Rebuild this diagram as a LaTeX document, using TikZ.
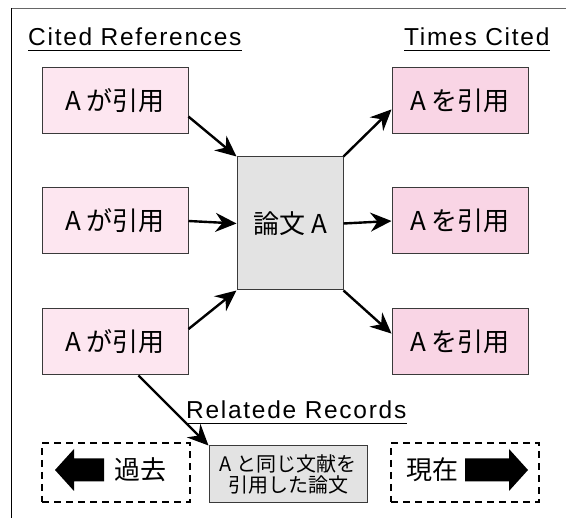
\documentclass[tikz,border=0pt]{standalone}
\usepackage{fontspec}
\setmainfont{Noto Sans CJK JP}
\newfontfamily\latinfont{Liberation Sans}[LetterSpace=7]
\usetikzlibrary{arrows.meta}
\definecolor{citingpink}{HTML}{FDE6F0}
\definecolor{citedpink}{HTML}{F9D5E5}
\definecolor{papergray}{HTML}{E3E3E3}
\definecolor{edgegray}{HTML}{3A3A3A}
\tikzset{
  refbox/.style={draw=edgegray, line width=1pt, fill=citingpink, minimum width=146pt, minimum height=66pt, inner sep=0pt, font=\fontsize{26}{28}\selectfont},
  citebox/.style={refbox, fill=citedpink, minimum width=136pt},
  paperbox/.style={draw=edgegray, line width=1pt, fill=papergray, minimum width=106pt, minimum height=133pt, inner sep=0pt, font=\fontsize{26}{28}\selectfont},
  relbox/.style={draw=edgegray, line width=1pt, fill=papergray, minimum width=158pt, minimum height=57pt, inner sep=0pt, align=center, font=\fontsize{20}{21}\selectfont},
  timebox/.style={draw=black, line width=2pt, dash pattern=on 7pt off 5pt, minimum width=148pt, minimum height=59pt, inner sep=0pt},
  heading/.style={anchor=base west, inner sep=0pt, font=\latinfont\fontsize{24.5}{26}\selectfont},
  flow/.style={line width=2.4pt, -{Stealth[length=21pt,width=19pt,inset=7pt]}},
  uline/.style={line width=1pt},
  bigarrow/.style={fill=black},
  timelabel/.style={inner sep=0pt, font=\fontsize{26}{28}\selectfont},
}
\begin{document}
\begin{tikzpicture}[x=1pt,y=-1pt]
\useasboundingbox (0,0) rectangle (566,518);
% frame
\draw[black!60, line width=1pt] (11.5,8.5) -- (566,8.5);
\draw[black, line width=1pt] (11.5,8.5) -- (11.5,518);
% headings
\node[heading] (hcr) at (28,46) {Cited References};
\node[heading] (htc) at (404,46) {Times Cited};
\node[heading] (hrr) at (186,419) {Relatede Records};
\draw[uline] ([yshift=-5pt]hcr.base west) -- ([yshift=-5pt]hcr.base east);
\draw[uline] ([yshift=-5pt]htc.base west) -- ([yshift=-5pt]htc.base east);
\draw[uline] ([yshift=-5pt]hrr.base west) -- ([yshift=-5pt]hrr.base east);
% boxes
\node[refbox] (tl) at (115,101) {A\kern6pt が引用};
\node[refbox] (ml) at (115,221) {A\kern6pt が引用};
\node[refbox] (bl) at (115,342) {A\kern6pt が引用};
\node[citebox] (tr) at (460,101) {A\kern6pt を引用};
\node[citebox] (mr) at (460,221) {A\kern6pt を引用};
\node[citebox] (br) at (460,342) {A\kern6pt を引用};
\node[paperbox] (c) at (290,223.5) {論文\kern6pt A};
\node[relbox] (rel) at (288,474.5) {A\kern4pt と同じ文献を\\引用した論文};
% connectors
\draw[flow] (tl.-12) -- (c.north west);
\draw[flow] (ml.east) -- (c.west);
\draw[flow] (bl.10) -- (c.south west);
\draw[flow] (c.north east) -- (tr.187);
\draw[flow] (c.east) -- (mr.west);
\draw[flow] (c.south east) -- (br.173);
\draw[flow] (bl.-55) -- (rel.north west);
% time boxes
\node[timebox] (past) at (116,472.5) {};
\node[timebox] (now) at (465,472.5) {};
\node[timelabel] (pastlbl) at (140,470) {過去};
\node[timelabel] (nowlbl) at (432,470) {現在};
\fill[bigarrow] (104,458.5) -- (74,458.5) -- (74,449) -- (55,470) -- (74,491) -- (74,481.5) -- (104,481.5) -- cycle;
\fill[bigarrow] (465,458.5) -- (509,458.5) -- (509,449) -- (528,470) -- (509,491) -- (509,481.5) -- (465,481.5) -- cycle;
\end{tikzpicture}
\end{document}
